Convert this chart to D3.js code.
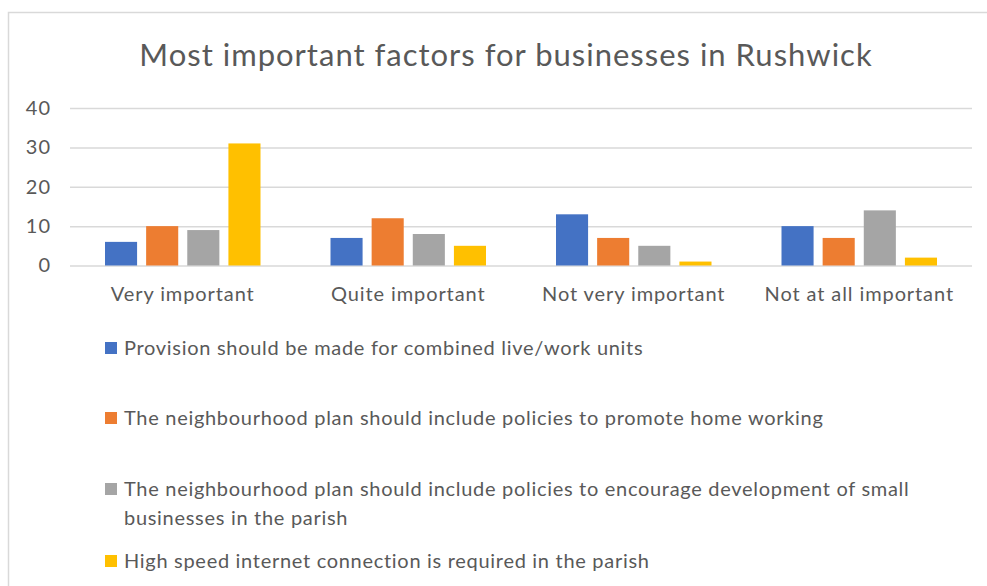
<!DOCTYPE html>
<html>
<head>
<meta charset="utf-8">
<script src="https://cdn.jsdelivr.net/npm/d3@7"></script>
<style>
  html, body { margin: 0; padding: 0; background: #fff; }
  svg { display: block; font-family: Lato, "Open Sans", sans-serif; }
</style>
</head>
<body>
<svg id="chart" width="987" height="586"></svg>
<script>
// Survey responses: how important each business factor is
const categories = ["Very important", "Quite important", "Not very important", "Not at all important"];
const seriesNames = [
  "Provision should be made for combined live/work units",
  "The neighbourhood plan should include policies to promote home working",
  "The neighbourhood plan should include policies to encourage development of small businesses in the parish",
  "High speed internet connection is required in the parish"
];
const liveWorkUnits   = [6, 7, 13, 10];
const homeWorking     = [10, 12, 7, 7];
const smallBusinesses = [9, 8, 5, 14];
const internet        = [31, 5, 1, 2];
const seriesValues = [liveWorkUnits, homeWorking, smallBusinesses, internet];
const seriesColors = ["#4472C4", "#ED7D31", "#A5A5A5", "#FFC000"];
const yTicks = [0, 10, 20, 30, 40];

const svg = d3.select("#chart");
const textColor = "#595959";
const gridColor = "#d9d9d9";

// chart frame (continues past the right and bottom edges)
svg.append("rect")
  .attr("x", 8.5).attr("y", 12.5)
  .attr("width", 1000).attr("height", 600)
  .attr("fill", "#fff").attr("stroke", gridColor).attr("stroke-width", 1.5);

// title
svg.append("text")
  .attr("x", 506).attr("y", 66)
  .attr("text-anchor", "middle")
  .attr("fill", textColor)
  .attr("font-size", 31)
  .attr("letter-spacing", "1px")
  .text("Most important factors for businesses in Rushwick");

const plot = { left: 70, right: 972, top: 108, bottom: 265.5 };

const y = d3.scaleLinear().domain([0, 40]).range([plot.bottom, plot.top]);
const x0 = d3.scaleBand().domain(categories).range([plot.left, plot.right]);
const x1 = d3.scaleBand().domain(d3.range(seriesNames.length))
  .range([35, x0.bandwidth() - 35]).paddingInner(0.22);

// value axis with gridlines
const yAxis = svg.append("g")
  .attr("transform", `translate(${plot.left},0)`)
  .call(d3.axisLeft(y).tickValues(yTicks).tickSize(-(plot.right - plot.left)).tickPadding(19));
yAxis.select(".domain").remove();
yAxis.selectAll(".tick line").attr("stroke", gridColor).attr("stroke-width", 1.5);
yAxis.selectAll(".tick text").attr("fill", textColor).attr("font-size", 20)
  .attr("letter-spacing", "1px").attr("font-family", "Lato, sans-serif");

// bars
const groups = svg.append("g").selectAll("g")
  .data(categories)
  .join("g")
  .attr("transform", d => `translate(${x0(d)},0)`);

groups.selectAll("rect")
  .data((c, ci) => seriesValues.map((vals, si) => ({ si, v: vals[ci] })))
  .join("rect")
  .attr("x", d => x1(d.si))
  .attr("width", x1.bandwidth())
  .attr("y", d => y(d.v))
  .attr("height", d => y(0) - y(d.v))
  .attr("fill", d => seriesColors[d.si]);

// category axis
const xAxis = svg.append("g")
  .attr("transform", `translate(0,${plot.bottom})`)
  .call(d3.axisBottom(x0).tickSize(0).tickPadding(21));
xAxis.select(".domain").remove();
xAxis.selectAll(".tick text").attr("fill", textColor).attr("font-size", 20)
  .attr("letter-spacing", "0.9px").attr("font-family", "Lato, sans-serif");

// legend
const legendRows = [348, 418, 489, 561];
const lineGap = 29;
const legend = svg.append("g");
seriesNames.forEach((name, i) => {
  const g = legend.append("g").attr("transform", `translate(105,${legendRows[i]})`);
  g.append("rect").attr("x", 0).attr("y", -6).attr("width", 12).attr("height", 12)
    .attr("fill", seriesColors[i]);
  const t = g.append("text").attr("x", 19).attr("y", 0)
    .attr("fill", textColor).attr("font-size", 20).attr("letter-spacing", "0.7px");
  // wrap long entries
  const words = name.split(" ");
  let line = [];
  let tspan = t.append("tspan").attr("x", 19).attr("dy", "0.35em");
  words.forEach(w => {
    line.push(w);
    tspan.text(line.join(" "));
    if (tspan.node().getComputedTextLength() > 800 && line.length > 1) {
      line.pop();
      tspan.text(line.join(" "));
      line = [w];
      tspan = t.append("tspan").attr("x", 19).attr("dy", lineGap + "px").text(w);
    }
  });
});
</script>
</body>
</html>
